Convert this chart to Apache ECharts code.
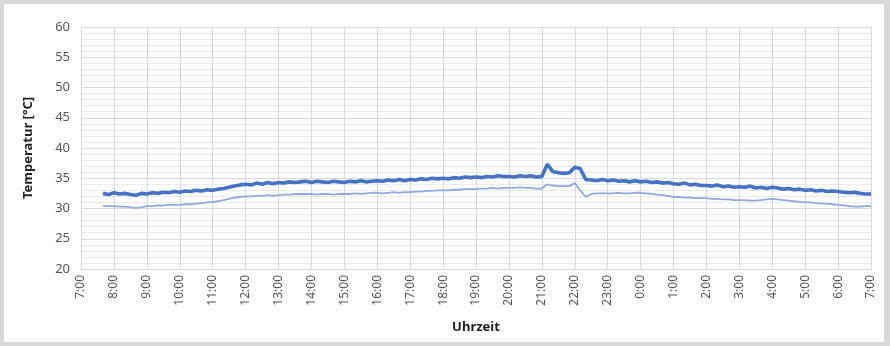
<!DOCTYPE html>
<html>
<head>
<meta charset="utf-8">
<script src="https://cdn.jsdelivr.net/npm/echarts@6/dist/echarts.min.js"></script>
<style>
html,body{margin:0;padding:0;background:#d9d9d9;width:890px;height:346px;overflow:hidden;}
#c{position:absolute;left:4px;top:4px;width:880px;height:338px;background:#fff;}
</style>
</head>
<body>
<div id="c"></div>
<script>
// Time categories every 10 minutes from 7:00 to 7:00 next day
const hours = [7,8,9,10,11,12,13,14,15,16,17,18,19,20,21,22,23,0,1,2,3,4,5,6];
const minutes = ['00','10','20','30','40','50'];
const categories = [];
hours.forEach(h => minutes.forEach(m => categories.push(h + ':' + m)));
categories.push('7:00');

const yTicks = [20,25,30,35,40,45,50,55,60];

// Dark series (thick, noisy)
const seriesDark = [
  null,null,null,null,32.5,32.3,
  32.6,32.4,32.5,32.3,32.2,32.5,
  32.4,32.6,32.5,32.7,32.6,32.8,
  32.7,32.9,32.8,33.0,32.9,33.1,
  33.0,33.2,33.3,33.5,33.7,33.9,
  34.0,33.9,34.2,34.0,34.3,34.1,
  34.3,34.2,34.4,34.3,34.4,34.5,
  34.3,34.5,34.4,34.3,34.5,34.4,
  34.3,34.5,34.4,34.6,34.4,34.5,
  34.6,34.5,34.7,34.6,34.8,34.6,
  34.8,34.7,34.9,34.8,35.0,34.9,
  35.0,34.9,35.1,35.0,35.2,35.1,
  35.2,35.1,35.3,35.2,35.4,35.3,
  35.3,35.2,35.4,35.3,35.4,35.2,
  35.3,37.3,36.1,35.9,35.8,35.9,
  36.8,36.6,34.8,34.7,34.6,34.8,
  34.6,34.7,34.5,34.6,34.4,34.6,
  34.4,34.5,34.3,34.4,34.2,34.3,
  34.1,34.0,34.2,33.9,34.0,33.8,
  33.8,33.7,33.9,33.6,33.7,33.5,
  33.6,33.5,33.7,33.4,33.5,33.3,
  33.5,33.4,33.2,33.3,33.1,33.2,
  33.0,33.1,32.9,33.0,32.8,32.9,
  32.8,32.7,32.6,32.7,32.5,32.4,
  32.4
];

// Light series (thin, smoother)
const seriesLight = [
  null,null,null,null,30.4,30.4,
  30.4,30.3,30.3,30.2,30.1,30.2,
  30.4,30.4,30.5,30.5,30.6,30.6,
  30.6,30.7,30.7,30.8,30.9,31.0,
  31.1,31.2,31.4,31.6,31.8,31.9,
  32.0,32.0,32.1,32.1,32.2,32.1,
  32.2,32.3,32.3,32.4,32.4,32.4,
  32.4,32.3,32.4,32.4,32.3,32.4,
  32.4,32.4,32.5,32.4,32.5,32.6,
  32.6,32.5,32.6,32.7,32.6,32.7,
  32.7,32.8,32.8,32.9,32.9,33.0,
  33.0,33.0,33.1,33.1,33.2,33.2,
  33.2,33.3,33.3,33.4,33.3,33.4,
  33.4,33.4,33.5,33.4,33.4,33.3,
  33.3,34.0,33.8,33.7,33.7,33.7,
  34.2,33.0,31.9,32.4,32.5,32.5,
  32.5,32.5,32.6,32.5,32.5,32.6,
  32.6,32.5,32.4,32.3,32.2,32.1,
  31.9,31.9,31.8,31.8,31.7,31.7,
  31.7,31.6,31.6,31.5,31.5,31.4,
  31.4,31.4,31.3,31.3,31.4,31.5,
  31.6,31.5,31.4,31.3,31.2,31.1,
  31.0,31.0,30.9,30.8,30.8,30.7,
  30.6,30.5,30.4,30.3,30.3,30.4,
  30.4
];

const chart = echarts.init(document.getElementById('c'), null, {renderer:'canvas'});
const font = '"Noto Sans", "Liberation Sans", sans-serif';
chart.setOption({
  animation:false,
  backgroundColor:'#ffffff',
  grid:{left:77, right:13, top:23, bottom:73, containLabel:false},
  xAxis:{
    type:'category',
    data:categories,
    boundaryGap:false,
    name:'Uhrzeit',
    nameLocation:'middle',
    nameGap:52,
    nameTextStyle:{fontFamily:font, fontSize:13, fontWeight:'bold', color:'#222'},
    axisLine:{show:true, lineStyle:{color:'#d9d9d9', width:1}},
    axisTick:{show:false},
    axisLabel:{interval:5, rotate:90, fontFamily:font, fontSize:12, color:'#555', margin:6},
    splitLine:{show:true, interval:5, lineStyle:{color:'#d9d9d9', width:1}}
  },
  yAxis:{
    type:'value',
    min:20, max:60, interval:5,
    name:'Temperatur [°C]',
    nameLocation:'middle',
    nameGap:46,
    nameRotate:90,
    nameTextStyle:{fontFamily:font, fontSize:13, fontWeight:'bold', color:'#222'},
    axisLine:{show:true, lineStyle:{color:'#d9d9d9', width:1}},
    axisTick:{show:false},
    axisLabel:{fontFamily:font, fontSize:13, color:'#555', margin:11,
      formatter:v => yTicks.indexOf(v) >= 0 ? String(v) : ''},
    splitLine:{show:true, lineStyle:{color:'#d9d9d9', width:1}},
    minorTick:{show:false, splitNumber:5},
    minorSplitLine:{show:true, lineStyle:{color:'#ebebeb', width:1}}
  },
  series:[
    {type:'line', data:seriesLight, symbol:'none', connectNulls:false,
     lineStyle:{color:'#8eaadf', width:1.8}, z:2},
    {type:'line', data:seriesDark, symbol:'none', connectNulls:false,
     lineStyle:{color:'#4472c4', width:3.6}, z:3}
  ]
});
</script>
</body>
</html>
